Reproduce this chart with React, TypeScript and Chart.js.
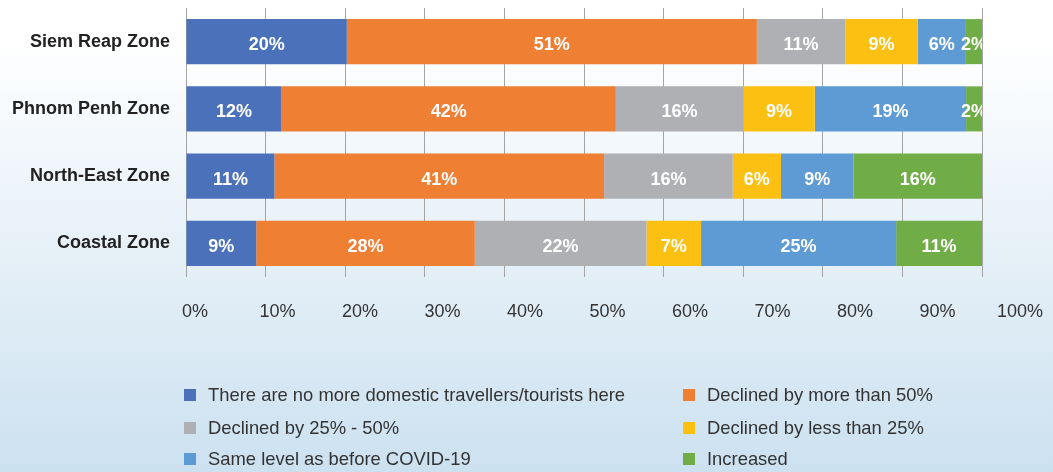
import React, { useEffect, useRef } from "react";
import { Chart, registerables } from "chart.js";

Chart.register(...registerables);

const categories = ["Siem Reap Zone", "Phnom Penh Zone", "North-East Zone", "Coastal Zone"];
const seriesNames = [
  "There are no more domestic travellers/tourists here",
  "Declined by more than 50%",
  "Declined by 25% - 50%",
  "Declined by less than 25%",
  "Same level as before COVID-19",
  "Increased",
];
const noMoreTravellers = [20, 12, 11, 9];
const declinedOver50 = [51, 42, 41, 28];
const declined25to50 = [11, 16, 16, 22];
const declinedUnder25 = [9, 9, 6, 7];
const sameLevel = [6, 19, 9, 25];
const increased = [2, 2, 16, 11];
const xTickValues = [0, 10, 20, 30, 40, 50, 60, 70, 80, 90, 100];
const seriesColors = ["#4a71b9", "#ee7f33", "#afb0b3", "#fcc013", "#5e9bd4", "#71ad47"];

const seriesValues = [noMoreTravellers, declinedOver50, declined25to50, declinedUnder25, sameLevel, increased];
const rowTotals = categories.map((_, i) => seriesValues.reduce((s, arr) => s + arr[i], 0));

const FONT = "'Liberation Sans', Arial, sans-serif";

const barLabelPlugin = {
  id: "barLabels",
  afterDatasetsDraw(chart: any) {
    const { ctx, chartArea } = chart;
    ctx.save();
    ctx.beginPath();
    ctx.rect(chartArea.left, chartArea.top, chartArea.right - chartArea.left, chartArea.bottom - chartArea.top);
    ctx.clip();
    ctx.font = `bold 18px ${FONT}`;
    ctx.fillStyle = "#ffffff";
    ctx.textAlign = "center";
    ctx.textBaseline = "middle";
    chart.data.datasets.forEach((ds: any, di: number) => {
      const meta = chart.getDatasetMeta(di);
      meta.data.forEach((bar: any, i: number) => {
        const cx = (bar.x + bar.base) / 2;
        ctx.fillText(ds.rawValues[i] + "%", cx, bar.y + 3.5);
      });
    });
    ctx.restore();
  },
};

const tickLabelPlugin = {
  id: "xTickLabels",
  afterDraw(chart: any) {
    const { ctx } = chart;
    const xs = chart.scales.x;
    ctx.save();
    ctx.font = `18px ${FONT}`;
    ctx.fillStyle = "#333333";
    ctx.textAlign = "center";
    ctx.textBaseline = "middle";
    xTickValues.forEach((v) => {
      const px = xs.left + (xs.getPixelForValue(v) - xs.left) * 1.0364 + 9;
      ctx.fillText(v + "%", px, 312);
    });
    ctx.restore();
  },
};

const legendPlugin = {
  id: "customLegend",
  afterDraw(chart: any) {
    const { ctx } = chart;
    const colX = [184, 683];
    const rowY = [395, 428, 459];
    ctx.save();
    ctx.font = `18.4px ${FONT}`;
    ctx.textAlign = "left";
    ctx.textBaseline = "middle";
    chart.data.datasets.forEach((ds: any, i: number) => {
      const x = colX[i % 2];
      const y = rowY[Math.floor(i / 2)];
      ctx.fillStyle = ds.backgroundColor;
      ctx.fillRect(x, y - 6, 12, 12);
      ctx.fillStyle = "#333333";
      ctx.fillText(ds.label, x + 24, y + 1);
    });
    ctx.restore();
  },
};

export default function App() {
  const canvasRef = useRef<HTMLCanvasElement | null>(null);

  useEffect(() => {
    document.body.style.margin = "0";
    const canvas = canvasRef.current;
    if (!canvas) return;
    const datasets = seriesValues.map((arr, si) => ({
      label: seriesNames[si],
      data: arr.map((v, i) => (v / rowTotals[i]) * 100),
      rawValues: arr,
      backgroundColor: seriesColors[si],
      borderWidth: 0,
      categoryPercentage: 1,
      barPercentage: 0.67,
    }));
    const chart = new Chart(canvas, {
      type: "bar",
      data: { labels: categories, datasets: datasets as any },
      options: {
        indexAxis: "y",
        animation: false,
        responsive: true,
        maintainAspectRatio: false,
        layout: { padding: { left: 0, right: 71, top: 8, bottom: 195 } },
        plugins: { legend: { display: false }, tooltip: { enabled: false } },
        scales: {
          x: {
            stacked: true,
            min: 0,
            max: 100,
            ticks: { display: false, stepSize: 10 },
            grid: { color: "#a4a4a4", lineWidth: 1, drawTicks: false },
            border: { display: false },
            afterFit: (s: any) => {
              s.height = 0;
              s.paddingLeft = 0;
              s.paddingRight = 0;
            },
          },
          y: {
            stacked: true,
            grid: { display: false, drawTicks: false },
            border: { display: false },
            ticks: {
              padding: 16,
              color: "#222222",
              font: { family: FONT, size: 18, weight: "bold" },
            },
            afterFit: (s: any) => {
              s.width = 186;
              s.paddingTop = 0;
              s.paddingBottom = 0;
            },
          },
        },
      } as any,
      plugins: [barLabelPlugin, tickLabelPlugin, legendPlugin],
    });
    return () => chart.destroy();
  }, []);

  return (
    <div
      style={{
        position: "relative",
        width: 1053,
        height: 472,
        background: "linear-gradient(to bottom, #ffffff 8%, #cce1f0 100%)",
      }}
    >
      <canvas ref={canvasRef} style={{ display: "block" }} />
    </div>
  );
}
